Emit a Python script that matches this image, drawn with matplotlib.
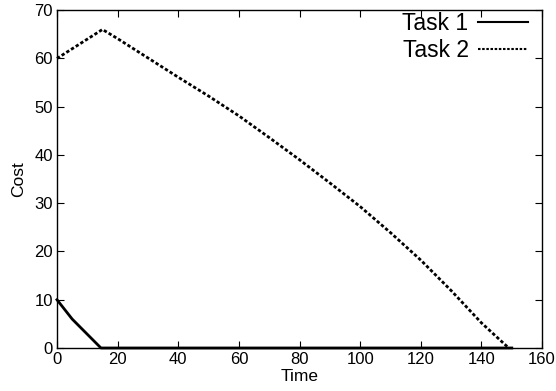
import matplotlib
matplotlib.use("Agg")
import matplotlib.pyplot as plt

# Task 1 cost over time
task1_time = [0, 5, 14.5, 150]
task1_cost = [10, 6, 0, 0]

# Task 2 cost over time
task2_time = [0, 15, 20, 30, 40, 50, 60, 70, 80, 90, 100, 110, 120, 130, 140, 145, 149]
task2_cost = [60, 66, 64.1, 60.1, 56.1, 52.2, 48.1, 43.6, 39.0, 34.2, 29.3, 23.9, 18.2, 11.9, 5.2, 2.3, 0]

plt.rcParams['font.family'] = ['Liberation Sans', 'DejaVu Sans']

fig = plt.figure(figsize=(5.56, 3.91), dpi=100)
ax = fig.add_axes([0.1025, 0.11, 0.8725, 0.864])

ax.plot(task1_time, task1_cost, color='black', lw=2, label='Task 1', clip_on=False)
ax.plot(task2_time, task2_cost, color='black', lw=2, linestyle=(0, (1.2, 0.8)),
        label='Task 2', clip_on=False)

ax.set_xlim(0, 160)
ax.set_ylim(0, 70)
ax.set_xticks(range(0, 161, 20))
ax.set_yticks(range(0, 71, 10))
ax.tick_params(direction='in', top=True, right=True, length=5, labelsize=12, pad=3)
for s in ax.spines.values():
    s.set_linewidth(1)

ax.set_xlabel('Time', fontsize=12.5, labelpad=1)
ax.set_ylabel('Cost', fontsize=12.5, labelpad=6)

leg = ax.legend(loc='upper right', bbox_to_anchor=(0.976, 1.0), frameon=False,
                markerfirst=False, fontsize=16.5,
                handlelength=2.2, handletextpad=0.4, borderaxespad=0.0,
                labelspacing=0.15, borderpad=0.1)
for h in leg.get_lines():
    h.set_linewidth(1.5)

fig.savefig('out.png', dpi=100)
